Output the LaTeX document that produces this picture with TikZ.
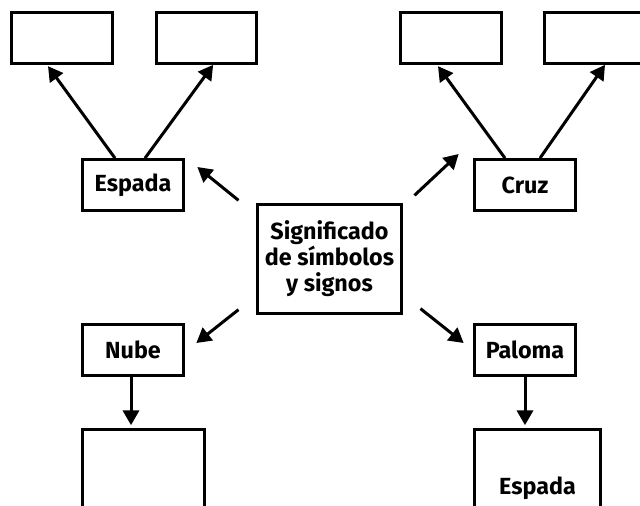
\documentclass[tikz,border=0pt]{standalone}
\usepackage{fontspec}
\setmainfont{Fira Sans}
\usetikzlibrary{arrows.meta}

\begin{document}
\begin{tikzpicture}[
    x = 0.75pt, y = -0.75pt,
    line width = 2.25pt,
    every node/.style = {draw, rectangle, inner sep = 0pt, font = \bfseries\fontsize{17.5}{19.5}\selectfont},
    box/.style = {minimum width = 75.5pt, minimum height = 38pt},
    tall/.style = {minimum height = 88pt},
    arr/.style = {-{Triangle[length = 11pt, width = 12pt]}, line width = 2.25pt}
  ]
  \useasboundingbox (0,0) rectangle (640,506);
  % centre
  \node[minimum width = 108pt, minimum height = 82pt, align = center] (sig) at (329.5,259)
    {Significado\\de símbolos\\y signos};
  % upper branches
  \node[box] (esp) at (133,185) {Espada};
  \node[box] (cruz) at (525,185) {Cruz};
  \node[box] (t1) at (62,38) {};
  \node[box] (t2) at (206.5,38) {};
  \node[box] (t3) at (451,38) {};
  \node[box] (t4) at (594.5,38) {};
  % lower branches
  \node[box] (nube) at (133,350) {Nube};
  \node[box] (pal) at (525,350) {Paloma};
  \node[box, tall, minimum width = 91.5pt] (b1) at (143.5,488) {};
  \node[box, tall, minimum width = 94.5pt] (b2) at (537.5,488) {Espada};

  \draw[arr] ([shift = {(-17.5,-2.5)}]sig.north west) -- ([shift = {(12.5,-18)}]esp.east);
  \draw[arr] ([shift = {(11.5,-7.5)}]sig.north east) -- ([shift = {(-14.5,-31)}]cruz.west);
  \draw[arr] ([shift = {(-17.5,-5.5)}]sig.south west) -- ([shift = {(11.5,-7)}]nube.east);
  \draw[arr] ([shift = {(17.5,-6.5)}]sig.south east) -- ([shift = {(-9.5,-7)}]pal.west);

  \draw[arr] ([xshift = -13.5pt]esp.north) -- ([xshift = -10.5pt, yshift = -1pt]t1.south);
  \draw[arr] ([xshift = 9pt]esp.north) -- ([xshift = 5pt]t2.south);
  \draw[arr] ([xshift = -15pt]cruz.north) -- ([xshift = -9.75pt, yshift = -1pt]t3.south);
  \draw[arr] ([xshift = 11.25pt]cruz.north) -- ([xshift = 7.9pt]t4.south);

  \draw[arr, shorten > = 2pt] ([xshift = -1.5pt]nube.south) -- ([xshift = -1.5pt]nube.south |- b1.north);
  \draw[arr, shorten > = 2pt] (pal.south) -- (pal.south |- b2.north);
\end{tikzpicture}
\end{document}
